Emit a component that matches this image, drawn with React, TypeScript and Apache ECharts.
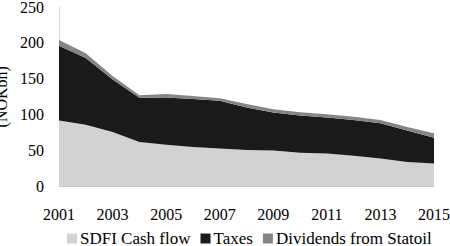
import React, { useEffect, useRef } from "react";
import * as echarts from "echarts";

const years = ["2001","2002","2003","2004","2005","2006","2007","2008","2009","2010","2011","2012","2013","2014","2015"];
const sdfi = [92, 86, 76, 62, 58, 55, 53, 51, 50, 47, 46, 43, 39, 34, 32];
const taxes = [104, 93, 73, 61.5, 66, 67, 66.5, 59, 53, 52, 50, 49.6, 49, 44, 36];
const dividends = [8, 6.5, 5, 3.5, 5, 4, 3.5, 5, 4.5, 4.5, 4.5, 4.4, 4.6, 5, 6];

const FONT = "Liberation Serif";

export default function App() {
  const ref = useRef<HTMLDivElement>(null);
  useEffect(() => {
    const chart = echarts.init(ref.current!, undefined, { renderer: "svg" });
    const mk = (name: string, data: number[], color: string) => ({
      name,
      type: "line",
      stack: "total",
      data,
      symbol: "none",
      lineStyle: { width: 0 },
      areaStyle: { color, opacity: 1 },
      itemStyle: { color },
    });
    chart.setOption({
      animation: false,
      textStyle: { fontFamily: FONT, color: "#000" },
      grid: { left: 59, right: 16, top: 7, bottom: 59.5, containLabel: false, outerBoundsMode: "none" },
      legend: {
        top: 230,
        left: 67,
        padding: 0,
        itemWidth: 10,
        itemHeight: 10,
        itemGap: 10,
        icon: "rect",
        textStyle: { fontFamily: FONT, fontSize: 17, color: "#000", padding: [0, 0, 0, -2] },
        data: ["SDFI Cash flow", "Taxes", "Dividends from Statoil"],
      },
      xAxis: {
        type: "category",
        data: years,
        boundaryGap: false,
        axisTick: { show: false },
        axisLine: { lineStyle: { color: "#c8c8c8", width: 1 } },
        axisLabel: { interval: 1, fontFamily: FONT, fontSize: 16, color: "#000", margin: 20 },
      },
      yAxis: {
        type: "value",
        min: 0,
        max: 250,
        interval: 50,
        name: "(NOKbn)",
        nameLocation: "middle",
        nameGap: 41,
        nameRotate: 90,
        nameTextStyle: { fontFamily: FONT, fontSize: 16, color: "#000" },
        splitLine: { show: false },
        axisTick: { show: false },
        axisLine: { show: true, lineStyle: { color: "#d9d9d9", width: 1 } },
        axisLabel: { fontFamily: FONT, fontSize: 16, color: "#000", margin: 15 },
      },
      series: [
        mk("SDFI Cash flow", sdfi, "#d2d2d2"),
        mk("Taxes", taxes, "#1a1a1a"),
        mk("Dividends from Statoil", dividends, "#858585"),
      ],
    });
    return () => chart.dispose();
  }, []);
  return <div ref={ref} style={{ width: 450, height: 246, position: "absolute", left: 0, top: 0 }} />;
}
